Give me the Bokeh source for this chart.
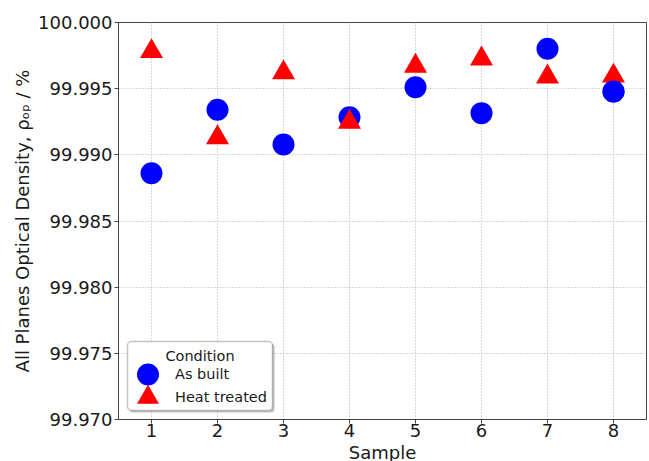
from bokeh.plotting import figure
from bokeh.models import (ColumnDataSource, Range1d, FixedTicker, NumeralTickFormatter,
                          Legend, LegendItem, Label, BoxAnnotation, CDSView, IndexFilter)
from bokeh.transform import dodge
from bokeh.embed import file_html
from bokeh.resources import INLINE

# ---- data ----
samples = [1, 2, 3, 4, 5, 6, 7, 8]
as_built = [99.98861, 99.99340, 99.99078, 99.99284, 99.99511, 99.99315, 99.99801, 99.99479]
heat_treated = [99.99806, 99.99156, 99.99646, 99.99272, 99.99696, 99.99751, 99.99615, 99.99621]
x_ticks = [1, 2, 3, 4, 5, 6, 7, 8]
y_ticks = [99.970, 99.975, 99.980, 99.985, 99.990, 99.995, 100.000]
series_names = ["As built", "Heat treated"]
legend_title = "Condition"
x_label = "Sample"
y_label = "All Planes Optical Density, \u03c1\u2092\u209a / %"

FONT = "DejaVu Sans"
TEXT = "#1a1a1a"
EDGE = "#444444"

p = figure(width=649, height=466,
           x_range=Range1d(0.5, 8.5), y_range=Range1d(99.970, 100.000),
           output_backend="svg", toolbar_location=None,
           min_border_left=118, min_border_top=22, min_border_right=3, min_border_bottom=47,
           background_fill_color="white", border_fill_color="white")

p.xaxis.axis_label = x_label
p.yaxis.axis_label = y_label
p.xaxis.ticker = FixedTicker(ticks=x_ticks)
p.yaxis.ticker = FixedTicker(ticks=y_ticks)
p.yaxis.formatter = NumeralTickFormatter(format="0.000")

for ax in (p.xaxis[0], p.yaxis[0]):
    ax.axis_line_color = EDGE
    ax.major_tick_line_color = EDGE
    ax.major_tick_in = 0
    ax.major_tick_out = 4
    ax.minor_tick_line_color = None
    ax.major_label_text_font = FONT
    ax.major_label_text_font_size = "18px"
    ax.major_label_text_color = TEXT
    ax.axis_label_text_font = FONT
    ax.axis_label_text_font_size = "18px"
    ax.axis_label_text_font_style = "normal"
    ax.axis_label_text_color = TEXT

p.yaxis.major_label_standoff = 2
p.yaxis.axis_label_standoff = 2
p.xaxis.major_label_standoff = 0
p.xaxis.axis_label_standoff = 2

p.grid.grid_line_color = "#b0b0b0"
p.grid.grid_line_dash = "1 2"
p.grid.grid_line_width = 1
p.outline_line_color = EDGE
p.outline_line_width = 1
p.outline_line_alpha = 1

src = ColumnDataSource(dict(sample=samples, as_built=as_built, heat_treated=heat_treated))

r_ab = p.scatter("sample", "as_built", source=src, marker="circle", size=22,
                 fill_color="#0000ff", line_color=None)
# Bokeh's triangle is centred on its centroid; shift so its box centre sits on the value
r_ht = p.scatter("sample", dodge("heat_treated", -0.00025, range=p.y_range), source=src,
                 marker="triangle", size=23, fill_color="#ff0000", line_color=None)
# in the reference the last "as built" point is drawn above its triangle
p.scatter("sample", "as_built", source=src, view=CDSView(filter=IndexFilter([7])),
          marker="circle", size=22, fill_color="#0000ff", line_color=None)

# legend frame (drawn separately so the big markers can sit close together)
shadow = BoxAnnotation(left=11, right=156, bottom=7, top=76,
                       left_units="screen", right_units="screen",
                       bottom_units="screen", top_units="screen",
                       fill_color="#9a9a9a", fill_alpha=0.6, line_color=None,
                       border_radius=4)
box = BoxAnnotation(left=9, right=154, bottom=9, top=78,
                    left_units="screen", right_units="screen",
                    bottom_units="screen", top_units="screen",
                    fill_color="white", fill_alpha=1.0, line_color="#3c3c3c", line_width=1.5,
                    border_radius=4)
p.add_layout(shadow)
p.add_layout(box)

legend_style = dict(glyph_width=55, glyph_height=58, label_standoff=0, padding=0, margin=0,
                    label_height=22, border_line_color=None, background_fill_alpha=0,
                    label_text_font=FONT, label_text_font_size="14.5px",
                    label_text_color=TEXT)
legend_a = Legend(items=[LegendItem(label=series_names[0], renderers=[r_ab])],
                  location=(2, 16), **legend_style)
legend_b = Legend(items=[LegendItem(label=series_names[1], renderers=[r_ht])],
                  location=(2, -7), **legend_style)
p.add_layout(legend_b)
p.add_layout(legend_a)

title = Label(x=81.5, y=64, x_units="screen", y_units="screen", text=legend_title,
              text_align="center", text_baseline="middle", text_font=FONT,
              text_font_size="14.5px", text_color=TEXT)
p.add_layout(title)

html = file_html(p, INLINE)
html = html.replace("</head>", "<style>html, body { overflow: hidden; }</style></head>", 1)
open("out.html", "w").write(html)
